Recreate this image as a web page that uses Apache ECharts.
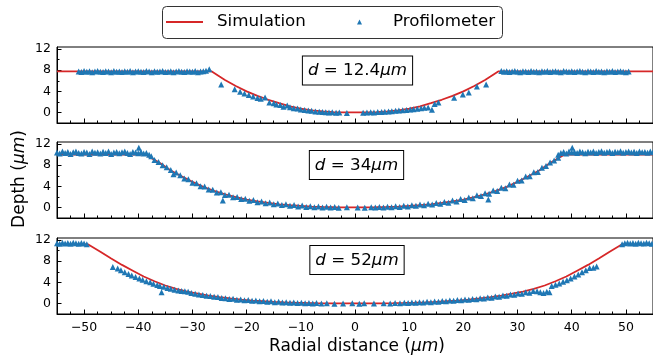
<!DOCTYPE html>
<html>
<head>
<meta charset="utf-8">
<script src="https://cdn.jsdelivr.net/npm/echarts@6/dist/echarts.min.js"></script>
<style>
  html, body { margin: 0; padding: 0; background: #fff; }
  #chart { width: 653px; height: 362px; }
</style>
</head>
<body>
<div id="chart"></div>
<script>
// tick positions
const majorX = [-50, -40, -30, -20, -10, 0, 10, 20, 30, 40, 50];
const minorX = [-52.5, -47.5, -45, -42.5, -37.5, -35, -32.5, -27.5, -25, -22.5, -17.5, -15, -12.5, -7.5, -5, -2.5,
  2.5, 5, 7.5, 12.5, 15, 17.5, 22.5, 25, 27.5, 32.5, 35, 37.5, 42.5, 45, 47.5, 52.5];
const majorY = [0, 4, 8, 12];
const minorY = [2, 6, 10];
const thickness = ['12.4', '34', '52'];

// simulation curves (radial distance, depth)
const sim1 = [[-55, 7.8], [-26.5, 7.8], [-25, 6.8], [-24, 6.15], [-22, 5.0], [-20, 4.0], [-18, 3.15], [-16, 2.4], [-14, 1.75],
  [-12, 1.15], [-10, 0.7], [-8, 0.4], [-6, 0.2], [-4, 0.07], [-2, 0.01], [0, 0], [2, 0.01], [4, 0.07], [6, 0.2], [8, 0.4],
  [10, 0.7], [12, 1.15], [14, 1.75], [16, 2.4], [18, 3.15], [20, 4.0], [22, 5.0], [24, 6.15], [25, 6.8], [26.5, 7.8], [55, 7.8]];

const sim2 = [[-55, 10], [-38.6, 10], [-36, 8.4], [-34, 7.0], [-32, 5.9], [-30, 4.85], [-28, 3.9], [-26, 3.15], [-24, 2.5],
  [-22, 1.95], [-20, 1.5], [-18, 1.15], [-16, 0.85], [-14, 0.6], [-12, 0.42], [-10, 0.28], [-8, 0.17], [-6, 0.09], [-4, 0.04],
  [-2, 0.01], [0, 0], [2, 0.01], [4, 0.04], [6, 0.09], [8, 0.17], [10, 0.28], [12, 0.42], [14, 0.6], [16, 0.85], [18, 1.15],
  [20, 1.5], [22, 1.95], [24, 2.5], [26, 3.15], [28, 3.9], [30, 4.85], [32, 5.9], [34, 7.0], [36, 8.4], [38.6, 10], [55, 10]];

const sim3 = [[-55, 11.2], [-49.3, 11.2], [-47, 9.8], [-45, 8.5], [-43, 7.3], [-41, 6.2], [-39, 5.1], [-37, 4.2], [-35, 3.4],
  [-33, 2.75], [-31, 2.25], [-29, 1.85], [-27, 1.5], [-25, 1.2], [-23, 0.95], [-21, 0.72], [-19, 0.55], [-17, 0.42],
  [-15, 0.31], [-13, 0.22], [-11, 0.15], [-9, 0.09], [-7, 0.05], [-5, 0.02], [-3, 0.01], [0, 0], [3, 0.01], [5, 0.02],
  [7, 0.05], [9, 0.09], [11, 0.15], [13, 0.22], [15, 0.31], [17, 0.42], [19, 0.55], [21, 0.72], [23, 0.95], [25, 1.2],
  [27, 1.5], [29, 1.85], [31, 2.25], [33, 2.75], [35, 3.4], [37, 4.2], [39, 5.1], [41, 6.2], [43, 7.3], [45, 8.5], [47, 9.8],
  [49.3, 11.2], [55, 11.2]];

// profilometer measurements
const prof1 = [
  [-51, 7.75], [-50.5, 7.65], [-50, 7.85], [-49.5, 7.7], [-49, 7.8], [-48.5, 7.6], [-48, 7.75], [-47.5, 7.85], [-47, 7.7],
  [-46.5, 7.65], [-46, 7.8], [-45.5, 7.75], [-45, 7.6], [-44.5, 7.85], [-44, 7.7], [-43.5, 7.75], [-43, 7.65], [-42.5, 7.8],
  [-42, 7.7], [-41.5, 7.85], [-41, 7.6], [-40.5, 7.75], [-40, 7.8], [-39.5, 7.7], [-39, 7.65], [-38.5, 7.85], [-38, 7.75],
  [-37.5, 7.6], [-37, 7.8], [-36.5, 7.7], [-36, 7.75], [-35.5, 7.85], [-35, 7.65], [-34.5, 7.7], [-34, 7.8], [-33.5, 7.6],
  [-33, 7.75], [-32.5, 7.85], [-32, 7.7], [-31.5, 7.65], [-31, 7.8], [-30.5, 7.75], [-30, 7.7], [-29.5, 7.85], [-29, 7.6],
  [-28.5, 7.75], [-28, 7.8], [-27.5, 7.9], [-26.9, 8.2],
  [-24.7, 5.3], [-22.2, 4.4], [-21.2, 3.9], [-20.4, 3.6], [-19.6, 3.3], [-18.8, 3.0], [-18, 2.75], [-17.4, 2.6], [-16.6, 2.85],
  [-15.8, 1.9], [-15, 1.75], [-14.5, 1.5], [-13.8, 1.4], [-13.2, 1.1], [-12.5, 1.3], [-12, 1.0], [-11.3, 0.8], [-10.6, 0.75],
  [-10, 0.55], [-9.3, 0.45], [-8.6, 0.35], [-8, 0.3], [-7.3, 0.2], [-6.6, 0.15], [-6, 0.1], [-5.4, 0.05], [-4.8, 0.0],
  [-4.2, 0.05], [-3.5, -0.05], [-2.9, 0.0], [-1.5, -0.1], [1.5, -0.05], [2.2, 0.0], [2.9, 0.05], [3.5, 0.0], [4.2, 0.1],
  [4.9, 0.1], [5.5, 0.15], [6.2, 0.2], [6.8, 0.25], [7.5, 0.3], [8.1, 0.35], [8.8, 0.4], [9.5, 0.45], [10.2, 0.55],
  [10.8, 0.6], [11.5, 0.7], [12.2, 0.8], [12.8, 0.9], [13.5, 0.95], [14.2, 0.5], [14.7, 1.6], [15.4, 1.9], [18.3, 2.8],
  [19.9, 3.4], [21, 3.8], [22.5, 4.9], [24.2, 5.3],
  [27, 7.85], [27.5, 7.7], [28, 7.8], [28.5, 7.65], [29, 7.75], [29.5, 7.85], [30, 7.7], [30.5, 7.6], [31, 7.8], [31.5, 7.75],
  [32, 7.65], [32.5, 7.85], [33, 7.7], [33.5, 7.75], [34, 7.6], [34.5, 7.8], [35, 7.7], [35.5, 7.85], [36, 7.65], [36.5, 7.75],
  [37, 7.8], [37.5, 7.7], [38, 7.6], [38.5, 7.85], [39, 7.75], [39.5, 7.7], [40, 7.8], [40.5, 7.65], [41, 7.75], [41.5, 7.85],
  [42, 7.7], [42.5, 7.6], [43, 7.8], [43.5, 7.75], [44, 7.65], [44.5, 7.85], [45, 7.7], [45.5, 7.75], [46, 7.6], [46.5, 7.8],
  [47, 7.7], [47.5, 7.85], [48, 7.65], [48.5, 7.75], [49, 7.8], [49.5, 7.7], [50, 7.6], [50.5, 7.75]];

const prof2 = [
  [-55, 10.4], [-54.5, 10.2], [-54, 10.6], [-53.5, 10.3], [-53, 10.5], [-52.5, 10.15], [-52, 10.45], [-51.5, 10.6],
  [-51, 10.3], [-50.5, 10.2], [-50, 10.5], [-49.5, 10.4], [-49, 10.15], [-48.5, 10.6], [-48, 10.35], [-47.5, 10.45],
  [-47, 10.2], [-46.5, 10.55], [-46, 10.3], [-45.5, 10.6], [-45, 10.15], [-44.5, 10.4], [-44, 10.5], [-43.5, 10.25],
  [-43, 10.45], [-42.5, 10.6], [-42, 10.3], [-41.5, 10.15], [-41, 10.5], [-40.5, 10.4], [-40, 10.25], [-39.9, 11.3],
  [-39.5, 10.5], [-39, 10.2], [-38.5, 10.3], [-38, 10.0], [-37.6, 9.7],
  [-37, 9.0], [-36.25, 8.6], [-35.5, 8.0], [-34.75, 7.6], [-34, 7.1], [-33.5, 6.3], [-33, 6.6], [-32.25, 6.1], [-31.5, 5.5],
  [-30.75, 5.35], [-30, 4.7], [-29.25, 4.6], [-28.5, 4.0], [-27.75, 3.95], [-27, 3.4], [-26.25, 3.35], [-25.5, 2.85],
  [-24.75, 2.9], [-24.4, 1.3], [-24, 2.35], [-23.25, 2.4], [-22.5, 1.95], [-21.75, 2.0], [-21, 1.6], [-20.25, 1.65],
  [-19.5, 1.25], [-18.75, 1.4], [-18, 1.0], [-17.25, 1.15], [-16.5, 0.8], [-15.75, 0.95], [-15, 0.6], [-14.25, 0.75],
  [-13.5, 0.45], [-12.75, 0.6], [-12, 0.3], [-11.25, 0.45], [-10.5, 0.2], [-9.75, 0.35], [-9, 0.1], [-8.25, 0.25],
  [-7.5, 0.05], [-6.75, 0.2], [-6, 0.0], [-5.25, 0.15], [-4.5, 0.0], [-3.75, 0.1], [-3, -0.05], [-1.5, 0.05], [0.5, 0.0],
  [1.8, -0.05], [3, 0.05], [3.75, 0.0], [4.5, 0.1], [5.25, 0.0], [6, 0.15], [6.75, 0.05], [7.5, 0.25], [8.25, 0.1], [9, 0.3],
  [9.75, 0.2], [10.5, 0.4], [11.25, 0.3], [12, 0.55], [12.75, 0.4], [13.5, 0.7], [14.25, 0.55], [15, 0.85], [15.75, 0.7],
  [16.5, 1.05], [17.25, 0.9], [18, 1.3], [18.75, 1.15], [19.5, 1.6], [20.25, 1.4], [21, 1.9], [21.75, 1.75], [22.5, 2.3],
  [23.25, 2.15], [24, 2.7], [24.6, 1.5], [24.75, 2.6], [25.5, 3.2], [26.25, 3.1], [27, 3.75], [27.75, 3.65], [28.5, 4.35],
  [29.25, 4.3], [30, 5.05], [30.75, 5.1], [31.5, 5.85], [32.25, 5.9], [33, 6.65], [33.75, 6.7], [34.5, 7.5], [35.25, 7.85],
  [36, 8.5], [36.75, 8.9], [37.5, 9.4],
  [37.5, 10.0], [38, 10.3], [38.5, 10.5], [39, 10.2], [39.5, 10.6], [40, 10.4], [40.1, 11.3], [40.5, 10.5], [41, 10.3],
  [41.5, 10.6], [42, 10.45], [42.5, 10.25], [43, 10.55], [43.5, 10.4], [44, 10.6], [44.5, 10.3], [45, 10.5], [45.5, 10.65],
  [46, 10.35], [46.5, 10.5], [47, 10.6], [47.5, 10.3], [48, 10.55], [48.5, 10.45], [49, 10.65], [49.5, 10.35], [50, 10.5],
  [50.5, 10.6], [51, 10.4], [51.5, 10.55], [52, 10.3], [52.5, 10.6], [53, 10.45], [53.5, 10.5], [54, 10.35], [54.5, 10.6],
  [55, 10.45]];

const prof3 = [
  [-55, 11.4], [-54.5, 11.3], [-54, 11.5], [-53.5, 11.35], [-53, 11.45], [-52.5, 11.3], [-52, 11.5], [-51.5, 11.4],
  [-51, 11.3], [-50.5, 11.45], [-50, 11.35], [-49.5, 11.2],
  [-44.7, 6.9], [-43.8, 6.6], [-43.2, 6.3], [-42.5, 5.9], [-41.8, 5.6], [-41.2, 5.3], [-40.5, 5.0], [-39.8, 4.75],
  [-39.2, 4.5], [-38.5, 4.2], [-37.8, 4.0], [-37.2, 3.75], [-36.5, 3.5], [-36, 3.3], [-35.7, 2.1], [-35.3, 3.15],
  [-34.6, 2.95], [-34, 2.8], [-33.3, 2.6], [-32.6, 2.45], [-32, 2.35], [-31.4, 2.3], [-30.8, 2.2], [-30.2, 2.0],
  [-29.5, 1.85], [-28.8, 1.7], [-28.1, 1.6], [-27.4, 1.45], [-26.7, 1.4], [-26, 1.25], [-25.3, 1.2], [-24.6, 1.05],
  [-23.9, 1.0], [-23.2, 0.85], [-22.5, 0.9], [-21.8, 0.7], [-21.1, 0.75], [-20.4, 0.6], [-19.7, 0.65], [-19, 0.5],
  [-18.3, 0.55], [-17.6, 0.4], [-16.9, 0.45], [-16.2, 0.3], [-15.5, 0.4], [-14.8, 0.25], [-14.1, 0.3], [-13.4, 0.2],
  [-12.7, 0.25], [-12, 0.15], [-11.3, 0.2], [-10.6, 0.1], [-9.9, 0.15], [-9.2, 0.05], [-8.5, 0.1], [-7.8, 0.0], [-7.1, 0.1],
  [-6.2, 0.0], [-5.2, 0.05], [-3.8, -0.05], [-2.2, 0.0], [-0.5, 0.05],
  [0.8, -0.05], [1.7, 0.05], [3.5, 0.0], [5.3, 0.05], [6.5, 0.0], [7.4, 0.1], [8.3, 0.05], [9.1, 0.15], [9.8, 0.1],
  [10.5, 0.2], [11.2, 0.15], [11.9, 0.25], [12.6, 0.2], [13.3, 0.3], [14, 0.25], [14.7, 0.35], [15.4, 0.3], [16.1, 0.45],
  [16.8, 0.4], [17.5, 0.55], [18.2, 0.5], [18.9, 0.65], [19.6, 0.6], [20.3, 0.75], [21, 0.7], [21.7, 0.85], [22.4, 0.8],
  [23.1, 1.0], [23.8, 0.95], [24.5, 1.15], [25.2, 1.1], [25.9, 1.3], [26.6, 1.25], [27.3, 1.5], [28, 1.45], [28.7, 1.7],
  [29.4, 1.65], [30.1, 1.9], [30.8, 1.85], [31.5, 2.1], [32.2, 2.05], [32.9, 2.35], [33.6, 2.3], [34.2, 2.1], [34.8, 2.0],
  [35.4, 2.2], [35.9, 2.1], [36.3, 3.3], [37, 3.55], [37.7, 3.8], [38.4, 4.1], [39.1, 4.4], [39.8, 4.75], [40.5, 5.1],
  [41.2, 5.5], [41.9, 5.9], [42.6, 6.3], [43.3, 6.7], [44, 6.75], [44.6, 7.0],
  [49.3, 11.2], [49.8, 11.4], [50.3, 11.5], [50.8, 11.35], [51.3, 11.45], [51.8, 11.3], [52.3, 11.5], [52.8, 11.4],
  [53.3, 11.35], [53.8, 11.5], [54.3, 11.4], [54.8, 11.3]];

const sims = [sim1, sim2, sim3];
const profs = [prof1, prof2, prof3];

const FONT = 'DejaVu Sans';
const RED = '#d62728';
const BLUE = '#1f77b4';
const gridTops = [47, 142, 238];
const boxCenters = [[357.5, 70.5], [356.5, 165], [357, 260]];

const chart = echarts.init(document.getElementById('chart'));

const grids = [], xAxes = [], yAxes = [], series = [], graphics = [];

gridTops.forEach((top, i) => {
  grids.push({
    left: 57, top: top, width: 600, height: 76,
    show: true, borderColor: '#000', borderWidth: 1, backgroundColor: 'transparent'
  });

  // major x ticks (+ labels on the bottom panel)
  xAxes.push({
    type: 'value', gridIndex: i, position: 'bottom', min: -55, max: 55,
    axisLine: { show: true, onZero: false, lineStyle: { color: '#000', width: 1 } },
    axisTick: { show: true, inside: true, length: 4.5, customValues: majorX, lineStyle: { color: '#000' } },
    axisLabel: {
      show: i === 2, customValues: majorX, margin: 7, color: '#000', fontFamily: FONT, fontSize: 12.5,
      formatter: v => String(v).replace('-', '\u2212')
    },
    splitLine: { show: false }
  });
  // minor x ticks
  xAxes.push({
    type: 'value', gridIndex: i, position: 'bottom', min: -55, max: 55,
    axisLine: { show: false, onZero: false },
    axisTick: { show: true, inside: true, length: 2.5, customValues: minorX, lineStyle: { color: '#000' } },
    axisLabel: { show: false },
    splitLine: { show: false }
  });

  yAxes.push({
    type: 'value', gridIndex: i, position: 'left', min: -2, max: 12.4,
    axisLine: { show: true, onZero: false, lineStyle: { color: '#000', width: 1 } },
    axisTick: { show: true, inside: true, length: 4.5, customValues: majorY, lineStyle: { color: '#000' } },
    axisLabel: { customValues: majorY, margin: 6, color: '#000', fontFamily: FONT, fontSize: 12.5 },
    splitLine: { show: false }
  });
  yAxes.push({
    type: 'value', gridIndex: i, position: 'left', min: -2, max: 12.4,
    axisLine: { show: false, onZero: false },
    axisTick: { show: true, inside: true, length: 2.5, customValues: minorY, lineStyle: { color: '#000' } },
    axisLabel: { show: false },
    splitLine: { show: false }
  });

  series.push({
    name: 'Simulation', type: 'line', xAxisIndex: 2 * i, yAxisIndex: 2 * i,
    data: sims[i], symbol: 'none', showSymbol: false, smooth: false,
    lineStyle: { color: RED, width: 1.8 }, itemStyle: { color: RED }, z: 2
  });
  series.push({
    name: 'Profilometer', type: 'scatter', xAxisIndex: 2 * i, yAxisIndex: 2 * i,
    data: profs[i], symbol: 'triangle', symbolSize: 6,
    itemStyle: { color: BLUE, opacity: 1 }, z: 3
  });

  graphics.push({
    type: 'text', x: boxCenters[i][0], y: boxCenters[i][1], z: 10,
    style: {
      text: '{i|d} = ' + thickness[i] + '{i|μm}',
      align: 'center', verticalAlign: 'middle',
      fontFamily: FONT, fontSize: 16.7, fill: '#000',
      rich: { i: { fontStyle: 'italic', fontFamily: FONT, fontSize: 16.7 } },
      backgroundColor: '#fff', borderColor: '#000', borderWidth: 1, padding: [6, 5, 5, 5]
    }
  });
});

// legend frame
graphics.push({
  type: 'rect', z: 0,
  shape: { x: 162.5, y: 6.5, width: 340, height: 32, r: 4 },
  style: { fill: '#fff', stroke: '#333', lineWidth: 1 }
});

graphics.push({
  type: 'text', x: 20, y: 179, rotation: Math.PI / 2,
  style: {
    text: 'Depth ({i|μm})', align: 'center', verticalAlign: 'middle',
    fontFamily: FONT, fontSize: 17, fill: '#000',
    rich: { i: { fontStyle: 'italic', fontFamily: FONT, fontSize: 17 } }
  }
});
graphics.push({
  type: 'text', x: 357, y: 347,
  style: {
    text: 'Radial distance ({i|μm})', align: 'center', verticalAlign: 'middle',
    fontFamily: FONT, fontSize: 17, fill: '#000',
    rich: { i: { fontStyle: 'italic', fontFamily: FONT, fontSize: 17 } }
  }
});

const legendText = { fontFamily: FONT, fontSize: 16.7, color: '#000', lineHeight: 18 };

chart.setOption({
  animation: false,
  backgroundColor: '#fff',
  legend: [
    {
      data: [{ name: 'Simulation', icon: 'rect' }],
      left: 166, top: 13, padding: 0,
      itemWidth: 37, itemHeight: 2,
      textStyle: Object.assign({ padding: [0, 0, 0, 9] }, legendText),
      selectedMode: false, z: 5
    },
    {
      data: [{ name: 'Profilometer', icon: 'triangle' }],
      left: 357, top: 13, padding: 0,
      itemWidth: 5, itemHeight: 5,
      textStyle: Object.assign({ padding: [0, 0, 0, 26] }, legendText),
      selectedMode: false, z: 5
    }
  ],
  grid: grids,
  xAxis: xAxes,
  yAxis: yAxes,
  series: series,
  graphic: graphics
});
</script>
</body>
</html>
